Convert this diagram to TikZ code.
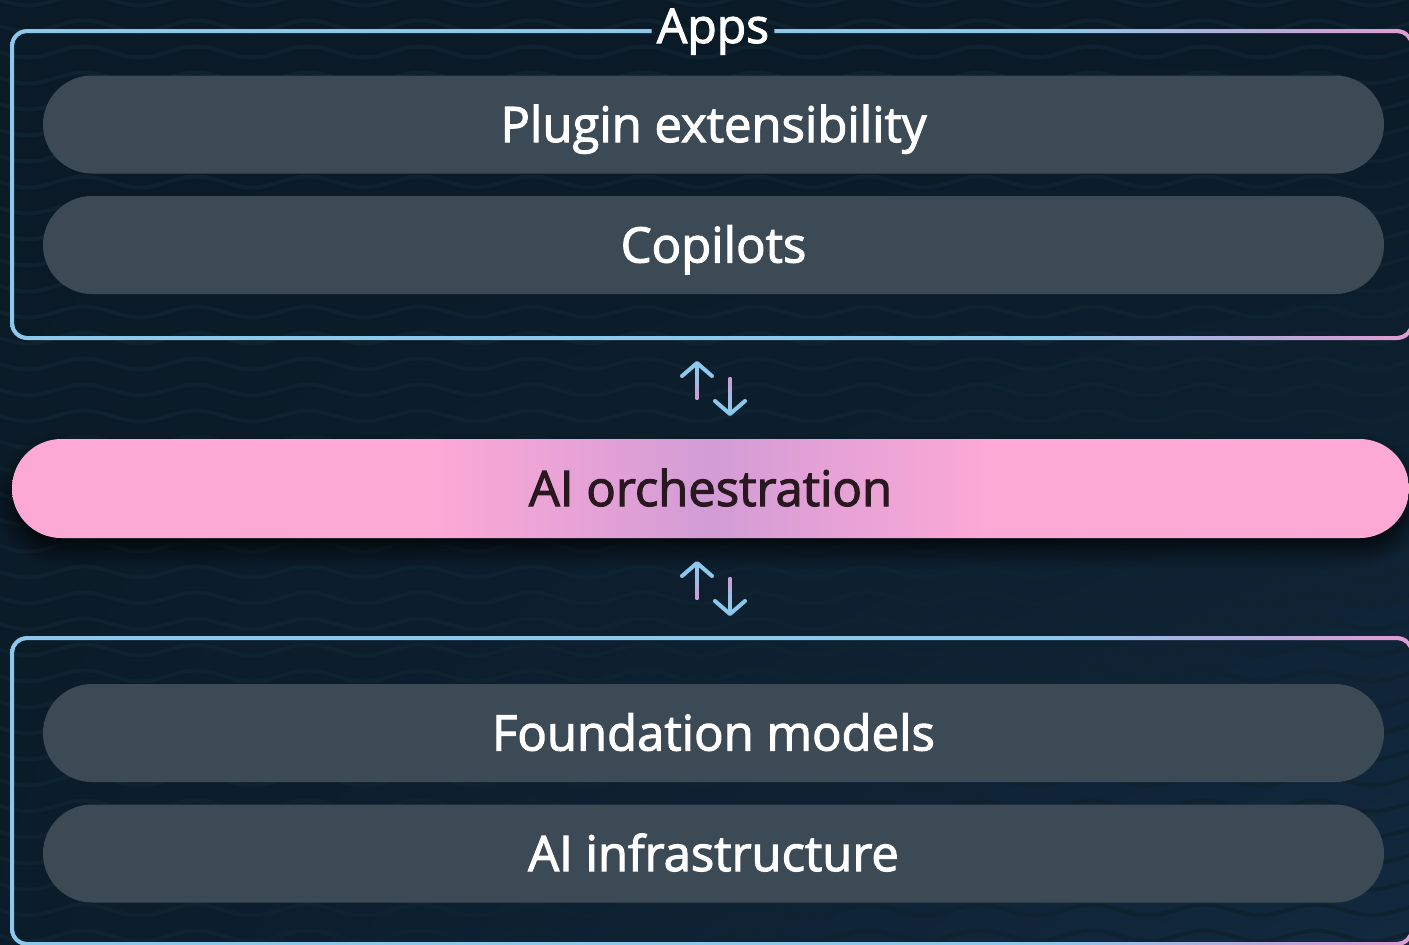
\documentclass[tikz,border=0pt]{standalone}
\usepackage{fontspec}
\setmainfont{Open Sans}[FakeBold=2.2]
\usetikzlibrary{shapes.misc,arrows.meta,shadows.blur,shadings,calc}
\definecolor{bgdark}{HTML}{0A1A26}
\definecolor{bgblue}{HTML}{12293F}
\definecolor{wavecol}{HTML}{0F2230}
\definecolor{pillgrey}{HTML}{3C4A55}
\definecolor{framebl}{HTML}{8BC8EC}
\definecolor{framelav}{HTML}{B9A8DC}
\definecolor{framepk}{HTML}{E49BD3}
\definecolor{orchpk}{HTML}{FDA9D6}
\definecolor{orchpu}{HTML}{D29CD6}
\definecolor{orchtext}{HTML}{2A1820}
\definecolor{arrowbl}{HTML}{8CC8EE}
\definecolor{arrowpk}{HTML}{C99FD6}
\pgfdeclarehorizontalshading{frameshade}{100bp}{color(0bp)=(framebl); color(62bp)=(framebl); color(70bp)=(framelav); color(75bp)=(framepk); color(100bp)=(framepk)}
\pgfdeclarehorizontalshading{orchshade}{100bp}{color(0bp)=(orchpk); color(40bp)=(orchpk); color(50bp)=(orchpu); color(60bp)=(orchpk); color(100bp)=(orchpk)}

\begin{document}
\begin{tikzpicture}[x=0.5pt, y=-0.5pt]
\tikzset{layer/.style={rounded rectangle, fill=pillgrey, text=white, minimum width=670.5pt, minimum height=49pt, inner sep=0pt, text height=17.5pt, text depth=0pt, font=\fontsize{24.5}{29}\selectfont}}
\tikzset{ribbon/.style={line width=2pt, line cap=round, -{Straight Barb[length=6.5pt, width=15pt, round]}}}
\useasboundingbox (0,0) rectangle (1409,944);
\shade[upper left=bgdark, upper right=bgdark, lower left=bgdark!85!bgblue, lower right=bgblue] (0,0) rectangle (1409,944);
\foreach \r in {0,...,36}
  \draw[wavecol, line width=2pt] plot[domain=-10:1420, samples=160, smooth] (\x, {\r*26 + 5.5*sin(\x/112*360)});

\node[text=white, font=\fontsize{24}{29}\selectfont, inner xsep=2.5pt, anchor=base] (apps) at (713,43) {Apps};
\begin{scope}[even odd rule]
\clip (-5,-5) rectangle (1415,950) (apps.south west) rectangle (apps.north east);
\shade[shading=frameshade, rounded corners=8.5pt] (10,29) rectangle (1414,340) [rounded corners=6.5pt] (14,33) rectangle (1410,336);
\end{scope}
\shade[shading=frameshade, even odd rule, rounded corners=8.5pt] (10,636) rectangle (1414,946) [rounded corners=6.5pt] (14,640) rectangle (1410,942);

\node[layer] (plugin) at (713.5,124.5) {Plugin extensibility};
\node[layer] (copilots) at (713.5,245) {Copilots};
\node[layer] (foundation) at (713.5,733) {Foundation models};
\node[layer] (infra) at (713.5,853.5) {AI infrastructure};

\node[layer, shading=orchshade, text=orchtext, minimum width=698.5pt, minimum height=49.5pt,
  blur shadow={shadow xshift=0pt, shadow yshift=-6pt, shadow blur steps=12, shadow blur radius=9pt, shadow opacity=80}] (orch) at (710.5,488.5) {AI orchestration};

\foreach \dy/\nm in {0/top, 200/bot} {
  \coordinate (\nm uptail) at (697,398+\dy);
  \coordinate (\nm uptip) at (697,361+\dy);
  \coordinate (\nm dntail) at (730,379+\dy);
  \coordinate (\nm dntip) at (730,416+\dy);
  \draw[ribbon, arrowbl] (\nm uptail) -- (\nm uptip);
  \draw[ribbon, arrowbl] (\nm dntail) -- (\nm dntip);
  \foreach \f/\c in {0/100, 0.15/80, 0.3/55, 0.45/30} {
    \draw[line width=2pt, line cap=round, arrowpk!\c!arrowbl] ($(\nm uptail)!\f!(\nm uptip)$) -- ($(\nm uptail)!\f+0.15!(\nm uptip)$);
    \draw[line width=2pt, line cap=round, arrowpk!\c!arrowbl] ($(\nm dntail)!\f!(\nm dntip)$) -- ($(\nm dntail)!\f+0.15!(\nm dntip)$);
  }
}
\end{tikzpicture}
\end{document}
